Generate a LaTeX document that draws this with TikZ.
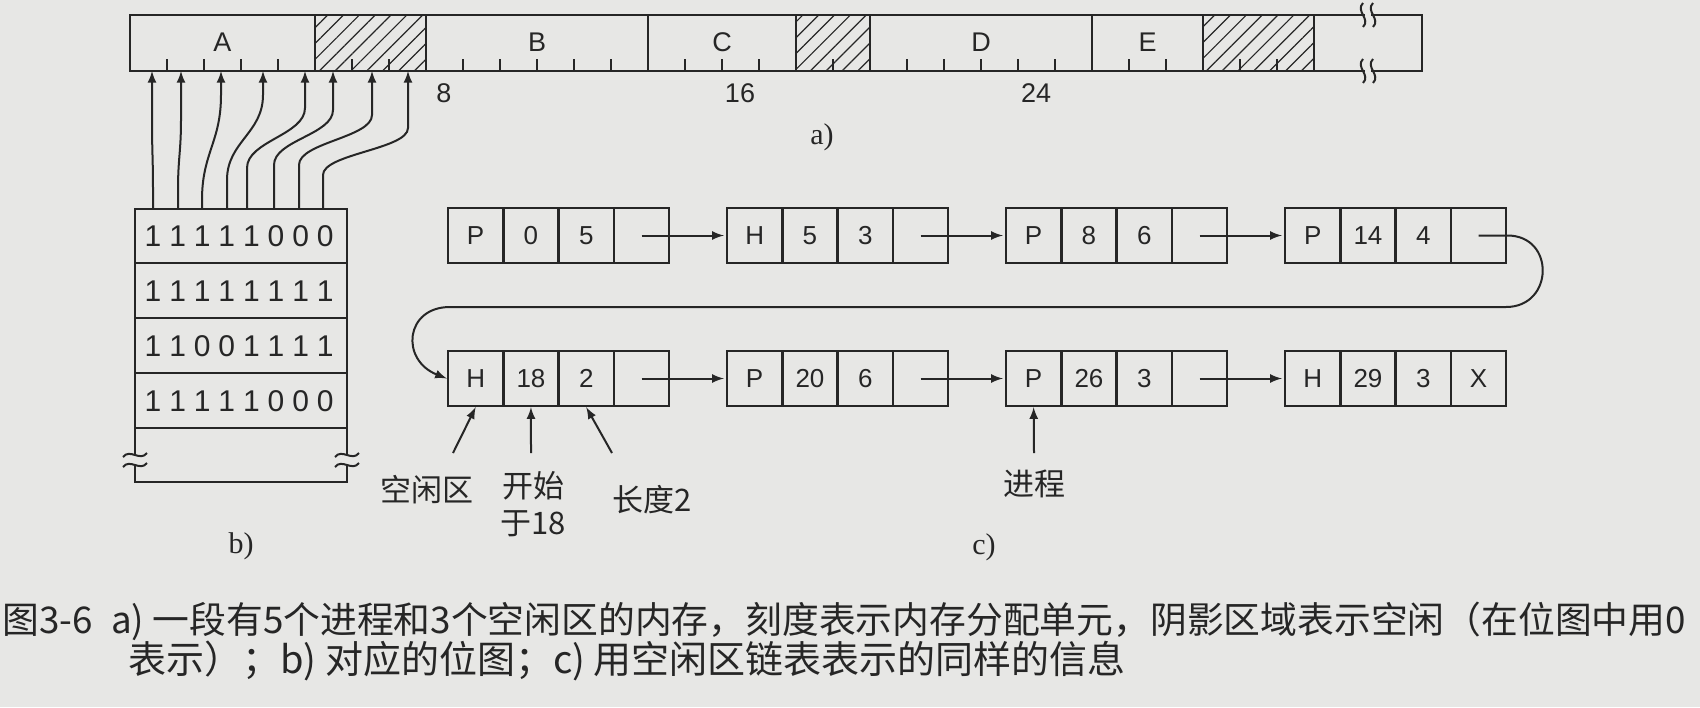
\documentclass[tikz,border=0pt]{standalone}
\usepackage{fontspec}
\setmainfont{Liberation Serif}
\setsansfont{Liberation Sans}
\newfontfamily\cjk{Noto Sans CJK SC}
\usetikzlibrary{positioning,calc,patterns.meta}
\definecolor{paper}{RGB}{231,231,229}
\definecolor{ink}{RGB}{38,38,38}
\tikzset{cell/.style={draw=ink,line width=1.2pt,minimum width=27.65pt,minimum height=27.5pt,inner sep=0pt,text=ink,font=\sffamily\fontsize{13}{13}\selectfont},
	bit/.style={inner sep=0pt,text=ink,font=\sffamily\fontsize{15}{15}\selectfont},
	seg/.style={inner sep=0pt,text=ink,font=\sffamily\fontsize{13.5}{13.5}\selectfont},
	zh/.style={inner sep=0pt,text=ink,align=center,font=\cjk\fontsize{15.5}{18.5}\selectfont},
	tag/.style={inner sep=0pt,text=ink,font=\fontsize{15}{15}\selectfont},
	figcap/.style={anchor=west,inner sep=0pt,text=ink,font=\cjk\fontsize{19}{19}\selectfont},
	hole/.style={pattern={Lines[angle=45,distance=5.6pt,line width=0.6pt]},pattern color=ink},
	rim/.style={draw=ink,line width=1.2pt},
	link/.style={-latex,line width=1pt,draw=ink}}

\begin{document}
\begin{tikzpicture}[x=0.5pt,y=-0.5pt]
	\fill[paper] (0,0) rectangle (1700,707);
	\useasboundingbox (0,0) rectangle (1700,707);
	\def\u{37}
	\def\xo{130}
	\def\bl{135}
	\def\br{347}
	% a) memory
	\foreach \a/\b in {5/8,18/20,29/32}{
		\fill[hole] ({\xo+\a*\u},15) rectangle ({\xo+\b*\u},71);
	}
	\foreach \i in {1,...,31}{
		\draw[ink,line width=1pt] ({\xo+\i*\u},71) -- ++(0,-12);
	}
	\foreach \i in {5,8,14,18,20,26,29,32}{
		\draw[rim] ({\xo+\i*\u},15) -- ({\xo+\i*\u},71);
	}
	\draw[rim] (1365,15) -- (\xo,15) -- (\xo,71) -- (1365,71);
	\draw[rim] (1371,15) -- (1422,15) -- (1422,71) -- (1371,71);
	\foreach \y in {15,71}{
		\foreach \x in {1363,1373}{
			\draw[ink,line width=1pt] (\x,{\y-12}) .. controls ({\x-8},{\y-4}) and ({\x+8},{\y+4}) .. (\x,{\y+12});
		}
	}
	\foreach \n/\c in {A/2.5,B/11,C/16,D/23,E/27.5}{
		\node[seg] (m\n) at ({\xo+\c*\u},42) {\n};
	}
	\foreach \n in {8,16,24}{
		\node[seg] (k\n) at ({\xo+\n*\u+18},93) {\n};
	}
	\node[tag] (ta) at (822,137) {a)};
	% b) bitmap
	\draw[rim] (\bl,455) -- (\bl,209) -- (\br,209) -- (\br,455);
	\draw[rim] (\bl,465) -- (\bl,482) -- (\br,482) -- (\br,465);
	\foreach \y in {263,318,373,428}{
		\draw[rim] (\bl,\y) -- (\br,\y);
	}
	\foreach \x in {\bl,\br}{
		\foreach \y in {455,465}{
			\draw[ink,line width=1pt] ({\x-12},{\y+2}) .. controls ({\x-5},{\y-7}) and ({\x+5},{\y+7}) .. ({\x+12},{\y-2});
		}
	}
	\foreach \row [count=\r] in {{1,1,1,1,1,0,0,0},{1,1,1,1,1,1,1,1},{1,1,0,0,1,1,1,1},{1,1,1,1,1,0,0,0}}{
		\foreach \d [count=\k] in \row{
			\pgfmathsetmacro{\bx}{153+24.6*(\k-1)}
			\pgfmathsetmacro{\by}{236+55*(\r-1)}
			\node[bit] (b\r-\k) at (\bx,\by) {\d};
		}
	}
	\foreach \k/\xb/\xt/\yb/\yt in {1/153/152/190/120,2/178/181/190/120,3/202/221/200/95,4/227/263/180/95,5/247/305/168/108,6/274/333/165/110,7/299/372/165/115,8/323/408/175/128}{
		\coordinate (s\k) at (\xb,209);
		\coordinate (t\k) at (\xt,71);
		\pgfmathsetmacro{\cc}{0.45*(\yb-\yt)}
		\draw[link] (s\k) -- (\xb,\yb) .. controls (\xb,{\yb-\cc}) and (\xt,{\yt+\cc}) .. (\xt,\yt) -- (t\k);
	}
	\node[tag] (tb) at (241,546) {b)};
	% c) list
	\foreach \e [count=\b] in {{P,0,5,{}},{H,5,3,{}},{P,8,6,{}},{P,14,4,{}}}{
		\foreach \t [count=\j] in \e{
			\node[cell] (n1\b-\j) at ({448+279*(\b-1)+27.65+55.3*(\j-1)},235.5) {\t};
		}
	}
	\foreach \e [count=\b] in {{H,18,2,{}},{P,20,6,{}},{P,26,3,{}},{H,29,3,X}}{
		\foreach \t [count=\j] in \e{
			\node[cell] (n2\b-\j) at ({448+279*(\b-1)+27.65+55.3*(\j-1)},378.5) {\t};
		}
	}
	\foreach \r in {1,2}{
		\foreach \b [evaluate=\b as \c using int(\b+1)] in {1,2,3}{
			\draw[link,shorten >=1pt] (n\r\b-4.center) -- (n\r\c-1.west);
		}
	}
	\draw[link] (n14-4.center) -- (n14-4.east) .. controls +(48,0) and (1554,307) .. (1506,307) -- (450,307) .. controls (405,307) and (400,360) .. (n21-1.west);
	\node[zh] (free) at (427,490) {空闲区};
	\node[zh] (start) at (533,504) {开始\\于18};
	\node[zh] (len) at (652,500) {长度2};
	\node[zh] (proc) at (1034,484) {进程};
	\coordinate (f1) at (453,453);
	\coordinate (f2) at (531,453);
	\coordinate (f3) at (612,453);
	\coordinate (f4) at (1034,453);
	\draw[link] (f1) -- (n21-1.south);
	\draw[link] (f2) -- (n21-2.south);
	\draw[link] (f3) -- (n21-3.south);
	\draw[link] (f4) -- (n23-1.south);
	\node[tag] (tc) at (984,547) {c)};
	% caption
	\node[figcap,font=\cjk\fontsize{18.4}{18.4}\selectfont] (cap1) at (2,621) {图3-6\enspace a) 一段有5个进程和3个空闲区的内存，刻度表示内存分配单元，阴影区域表示空闲（在位图中用0};
	\node[figcap] (cap2) at (128,661) {表示）；b) 对应的位图；c) 用空闲区链表表示的同样的信息};
\end{tikzpicture}
\end{document}
